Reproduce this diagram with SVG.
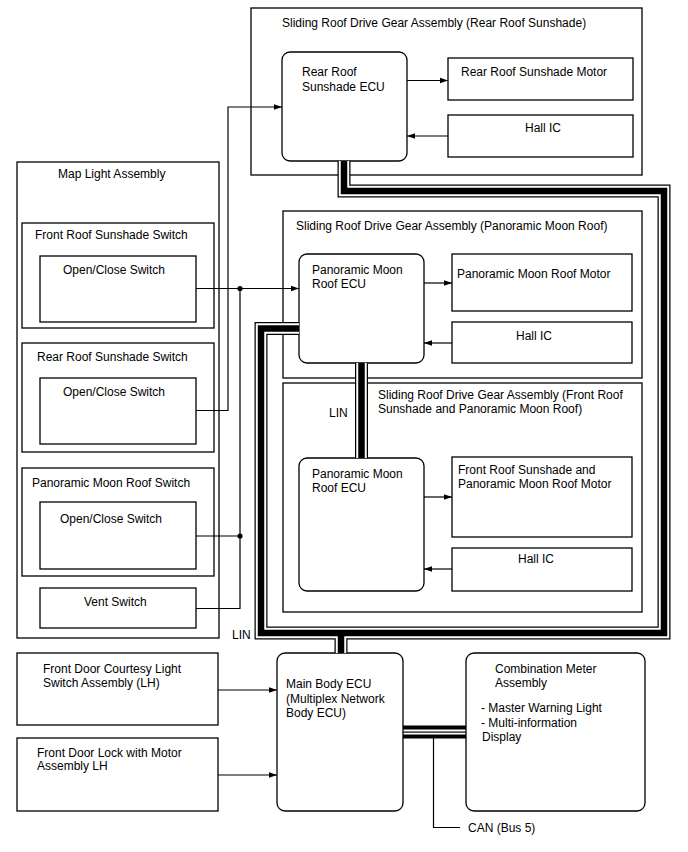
<svg xmlns="http://www.w3.org/2000/svg" width="688" height="852" viewBox="0 0 688 852">
<style>
text{font-family:"Liberation Sans",Arial,sans-serif;font-size:12px;fill:#000}
.b{fill:#fff;stroke:#000;stroke-width:1.3}
.c{fill:none;stroke:#000;stroke-width:1.2}
.a{fill:none;stroke:#000;stroke-width:1.2;marker-end:url(#ah)}
.bo{fill:none;stroke:#000;stroke-width:13}
.bw{fill:none;stroke:#fff;stroke-width:10.5}
.bi{fill:none;stroke:#000;stroke-width:6.5}
</style>
<defs>
<marker id="ah" viewBox="0 0 10 10" refX="10" refY="5" markerWidth="8" markerHeight="8" markerUnits="userSpaceOnUse" orient="auto">
<path d="M0,1.5 L10,5 L0,8.5 Z" fill="#000"/>
</marker>
</defs>
<rect width="688" height="852" fill="#fff"/>

<g id="rear-assembly">
<rect class="b" x="251" y="8" width="391" height="167"/>
<text x="282" y="27">Sliding Roof Drive Gear Assembly (Rear Roof Sunshade)</text>
</g>
<g id="rear-ecu">
<rect class="b" x="282" y="52" width="125" height="109" rx="8"/>
<text x="302" y="76">Rear Roof</text>
<text x="302" y="91">Sunshade ECU</text>
</g>
<g id="rear-motor">
<rect class="b" x="448" y="58" width="185" height="42"/>
<text x="461" y="76">Rear Roof Sunshade Motor</text>
</g>
<g id="rear-hall">
<rect class="b" x="448" y="115" width="185" height="42"/>
<text x="525" y="132">Hall IC</text>
</g>

<g id="pano-assembly">
<rect class="b" x="283" y="211" width="359" height="167"/>
<text x="296" y="230">Sliding Roof Drive Gear Assembly (Panoramic Moon Roof)</text>
</g>
<g id="pano-ecu">
<rect class="b" x="299" y="254" width="125" height="109" rx="8"/>
<text x="312" y="274">Panoramic Moon</text>
<text x="312" y="288">Roof ECU</text>
</g>
<g id="pano-motor">
<rect class="b" x="452" y="254" width="180" height="57"/>
<text x="457" y="278">Panoramic Moon Roof Motor</text>
</g>
<g id="pano-hall">
<rect class="b" x="452" y="322" width="180" height="41"/>
<text x="516" y="340">Hall IC</text>
</g>

<g id="front-assembly">
<rect class="b" x="283" y="383" width="359" height="229"/>
<text x="378" y="399">Sliding Roof Drive Gear Assembly (Front Roof</text>
<text x="378" y="413">Sunshade and Panoramic Moon Roof)</text>
</g>
<g id="front-ecu">
<rect class="b" x="299" y="458" width="125" height="133" rx="8"/>
<text x="312" y="478">Panoramic Moon</text>
<text x="312" y="492">Roof ECU</text>
</g>
<g id="front-motor">
<rect class="b" x="452" y="457" width="180" height="80"/>
<text x="458" y="474">Front Roof Sunshade and</text>
<text x="458" y="488">Panoramic Moon Roof Motor</text>
</g>
<g id="front-hall">
<rect class="b" x="452" y="548" width="180" height="43"/>
<text x="518" y="563">Hall IC</text>
</g>

<g id="map-light">
<rect class="b" x="17" y="162" width="202" height="476"/>
<text x="58" y="178">Map Light Assembly</text>
</g>
<g id="front-sunshade-switch">
<rect class="b" x="22" y="223" width="192" height="105"/>
<text x="35" y="239">Front Roof Sunshade Switch</text>
</g>
<g id="front-open-close">
<rect class="b" x="40" y="256" width="156" height="66"/>
<text x="63" y="274">Open/Close Switch</text>
</g>
<g id="rear-sunshade-switch">
<rect class="b" x="22" y="343" width="192" height="109"/>
<text x="37" y="361">Rear Roof Sunshade Switch</text>
</g>
<g id="rear-open-close">
<rect class="b" x="40" y="378" width="156" height="66"/>
<text x="63" y="396">Open/Close Switch</text>
</g>
<g id="pano-switch">
<rect class="b" x="22" y="468" width="192" height="108"/>
<text x="32" y="487">Panoramic Moon Roof Switch</text>
</g>
<g id="pano-open-close">
<rect class="b" x="40" y="502" width="156" height="67"/>
<text x="60" y="523">Open/Close Switch</text>
</g>
<g id="vent-switch">
<rect class="b" x="40" y="588" width="156" height="40"/>
<text x="84" y="606">Vent Switch</text>
</g>

<g id="courtesy-switch">
<rect class="b" x="17" y="653" width="201" height="72"/>
<text x="43" y="673">Front Door Courtesy Light</text>
<text x="43" y="687">Switch Assembly (LH)</text>
</g>
<g id="door-lock">
<rect class="b" x="17" y="738" width="201" height="73"/>
<text x="37" y="757">Front Door Lock with Motor</text>
<text x="37" y="770">Assembly LH</text>
</g>
<g id="main-body-ecu">
<rect class="b" x="277" y="653" width="126" height="158" rx="8"/>
<text x="286" y="688">Main Body ECU</text>
<text x="286" y="703">(Multiplex Network</text>
<text x="286" y="717">Body ECU)</text>
</g>
<g id="combination-meter">
<rect class="b" x="466" y="653" width="179" height="158" rx="8"/>
<text x="495" y="673">Combination Meter</text>
<text x="495" y="687">Assembly</text>
<text x="481" y="712">- Master Warning Light</text>
<text x="481" y="727">- Multi-information</text>
<text x="482" y="741">Display</text>
</g>

<g id="connectors">
<path class="a" d="M407,80.5 H448"/>
<path class="a" d="M448,136 H407"/>
<path class="a" d="M424,283 H452"/>
<path class="a" d="M452,343 H424"/>
<path class="a" d="M424,497 H452"/>
<path class="a" d="M452,569 H424"/>
<path class="a" d="M196,288.5 H299"/>
<path class="c" d="M196,536 H240"/>
<path class="c" d="M196,608.5 H240 V288.5"/>
<circle cx="240" cy="288.5" r="2.6" fill="#000"/>
<circle cx="240" cy="536" r="2.6" fill="#000"/>
<path class="a" d="M196,410.5 H228 V107 H282"/>
<path class="a" d="M218,690 H277"/>
<path class="a" d="M218,775 H277"/>
<path class="bo" d="M344,161 V191 H664 V633 H261 V328.5 H299 M341,633 V653 M361.5,363 V458"/>
<path class="bw" d="M344,161 V191 H664 V633 H261 V328.5 H299 M341,633 V653 M361.5,363 V458"/>
<path class="bi" d="M344,161 V191 H664 V633 H261 V328.5 H299 M341,633 V653 M361.5,363 V458"/>
<rect x="403" y="725.5" width="63" height="4" fill="#000"/>
<rect x="403" y="731.5" width="63" height="1.2" fill="#000"/>
<rect x="403" y="734.5" width="63" height="4" fill="#000"/>
<path class="c" d="M433.5,738 V827.5 H460"/>
</g>
<text x="329" y="417">LIN</text>
<text x="232" y="639">LIN</text>
<text x="468" y="832">CAN (Bus 5)</text>
</svg>
